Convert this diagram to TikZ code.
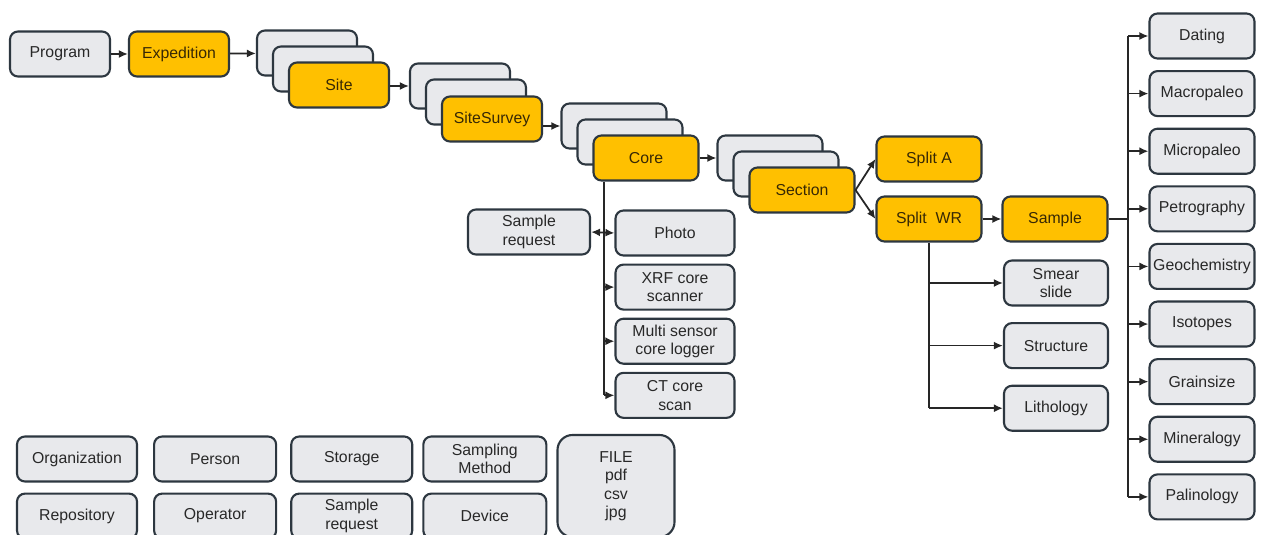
\documentclass[tikz,border=0pt]{standalone}
\usepackage{fontspec}
\setmainfont{Liberation Sans}
\usetikzlibrary{arrows.meta, positioning}
\definecolor{boxgray}{RGB}{232,233,236}
\definecolor{boxgold}{RGB}{255,192,0}
\definecolor{boxline}{RGB}{45,55,64}
\definecolor{txtgray}{RGB}{40,40,40}
\definecolor{txtgold}{RGB}{55,40,5}

\begin{document}
\begin{tikzpicture}[x=0.2mm, y=-0.2mm,
  ent/.style={rectangle, rounded corners=1.6mm, draw=boxline, line width=1.2pt, fill=boxgray, minimum width=2cm, minimum height=0.9cm, inner sep=2pt, align=center, font=\fontsize{9}{10.5}\selectfont, text=txtgray},
  key/.style={ent, fill=boxgold, text=txtgold},
  arr/.style={-{Latex[length=1.8mm, width=1.6mm]}, line width=1pt, draw=black!85},
  ln/.style={line width=1pt, draw=black!85}
]
\useasboundingbox (0,0) rectangle (1262,535);
\clip (0,0) rectangle (1262,535);

% main chain with stacked cards
\node[ent] (prog) at (60,54) {Program};
\node[key] (exped) at (179,54) {Expedition};
\node[ent] (siteb1) at (307,53) {};
\node[ent] (siteb2) at (323,69) {};
\node[key] (site) at (339,85) {Site};
\node[ent] (ssb1) at (460,86) {};
\node[ent] (ssb2) at (476,102) {};
\node[key] (ss) at (492,119) {SiteSurvey};
\node[ent, minimum width=2.1cm] (coreb1) at (614,126) {};
\node[ent, minimum width=2.1cm] (coreb2) at (630,142) {};
\node[key, minimum width=2.1cm] (core) at (646,158) {Core};
\node[ent, minimum width=2.1cm] (secb1) at (770,158) {};
\node[ent, minimum width=2.1cm] (secb2) at (786,174) {};
\node[key, minimum width=2.1cm] (sec) at (802,190) {Section};
\node[key, minimum width=2.1cm] (splita) at (929,159) {Split A};
\node[key, minimum width=2.1cm] (splitwr) at (929,219) {Split\ \ WR};
\node[key, minimum width=2.1cm] (sample) at (1055,219) {Sample};

\draw[arr] (prog) -- (exped);
\draw[arr] (exped) -- (siteb1);
\draw[arr] (site.east |- ssb1.west) -- (ssb1.west);
\draw[arr] (ss.east |- coreb1.west) -- (coreb1.west);
\draw[arr] (core) -- (secb1);
\draw[arr] (sec.east) -- (splita.west);
\draw[arr] (sec.east) -- (splitwr.west);
\draw[arr] (splitwr) -- (sample);

% core measurements
\node[ent, minimum width=2.38cm] (photo) at (675,233) {Photo};
\node[ent, minimum width=2.38cm, below=0.14cm of photo] (xrf) {XRF core\\scanner};
\node[ent, minimum width=2.38cm, below=0.14cm of xrf] (mscl) {Multi sensor\\core logger};
\node[ent, minimum width=2.38cm, below=0.14cm of mscl] (ctscan) {CT core\\scan};
\node[ent, minimum width=2.44cm] (sreq) at (529,232) {Sample\\request};
\coordinate (cbus) at (604,0);
\draw[ln] (cbus |- core.south) -- (cbus |- ctscan.west);
\draw[{Latex[length=1.8mm, width=1.6mm]}-{Latex[length=1.8mm, width=1.6mm]}, line width=1pt, draw=black!85] (sreq.east) -- (photo.west);
\foreach \n in {xrf, mscl, ctscan}
  \draw[arr] (cbus |- \n.west) -- (\n.west);

% split WR descriptions
\node[ent, minimum width=2.08cm] (smear) at (1056,283) {Smear\\slide};
\node[ent, minimum width=2.08cm, below=0.31cm of smear] (struct) {Structure};
\node[ent, minimum width=2.08cm, below=0.31cm of struct] (litho) {Lithology};
\draw[ln] (splitwr.south) -- (splitwr.south |- litho.west);
\foreach \n in {smear, struct, litho}
  \draw[arr] (splitwr.south |- \n.west) -- (\n.west);

% sample analyses
\node[ent, minimum width=2.1cm] (dating) at (1202,36) {Dating};
\node[ent, minimum width=2.1cm, below=0.21cm of dating] (macro) {Macropaleo};
\node[ent, minimum width=2.1cm, below=0.21cm of macro] (micro) {Micropaleo};
\node[ent, minimum width=2.1cm, below=0.21cm of micro] (petro) {Petrography};
\node[ent, minimum width=2.1cm, below=0.21cm of petro] (geochem) {Geochemistry};
\node[ent, minimum width=2.1cm, below=0.21cm of geochem] (iso) {Isotopes};
\node[ent, minimum width=2.1cm, below=0.21cm of iso] (grain) {Grainsize};
\node[ent, minimum width=2.1cm, below=0.21cm of grain] (miner) {Mineralogy};
\node[ent, minimum width=2.1cm, below=0.21cm of miner] (palino) {Palinology};
\coordinate (sbus) at (1128,0);
\draw[ln] (sample.east) -- (sbus |- sample.east);
\draw[ln] (sbus |- dating.west) -- (sbus |- palino.west);
\foreach \n in {dating, macro, micro, petro, geochem, iso, grain, miner, palino}
  \draw[arr] (sbus |- \n.west) -- (\n.west);

% shared entities
\node[ent, minimum width=2.4cm] (org) at (77,459) {Organization};
\node[ent, minimum width=2.4cm, below=0.2cm of org] (repo) {Repository};
\node[ent, minimum width=2.44cm, right=0.3cm of org] (person) {Person};
\node[ent, minimum width=2.44cm, below=0.2cm of person] (oper) {Operator};
\node[ent, minimum width=2.42cm, right=0.26cm of person] (storage) {Storage};
\node[ent, minimum width=2.42cm, below=0.2cm of storage] (sreq2) {Sample\\request};
\node[ent, minimum width=2.46cm, right=0.18cm of storage] (smethod) {Sampling\\Method};
\node[ent, minimum width=2.46cm, below=0.2cm of smethod] (device) {Device};
\node[ent, minimum width=2.34cm, minimum height=2.04cm, rounded corners=3mm] (file) at (616,486) {FILE\\pdf\\csv\\jpg};
\end{tikzpicture}
\end{document}
